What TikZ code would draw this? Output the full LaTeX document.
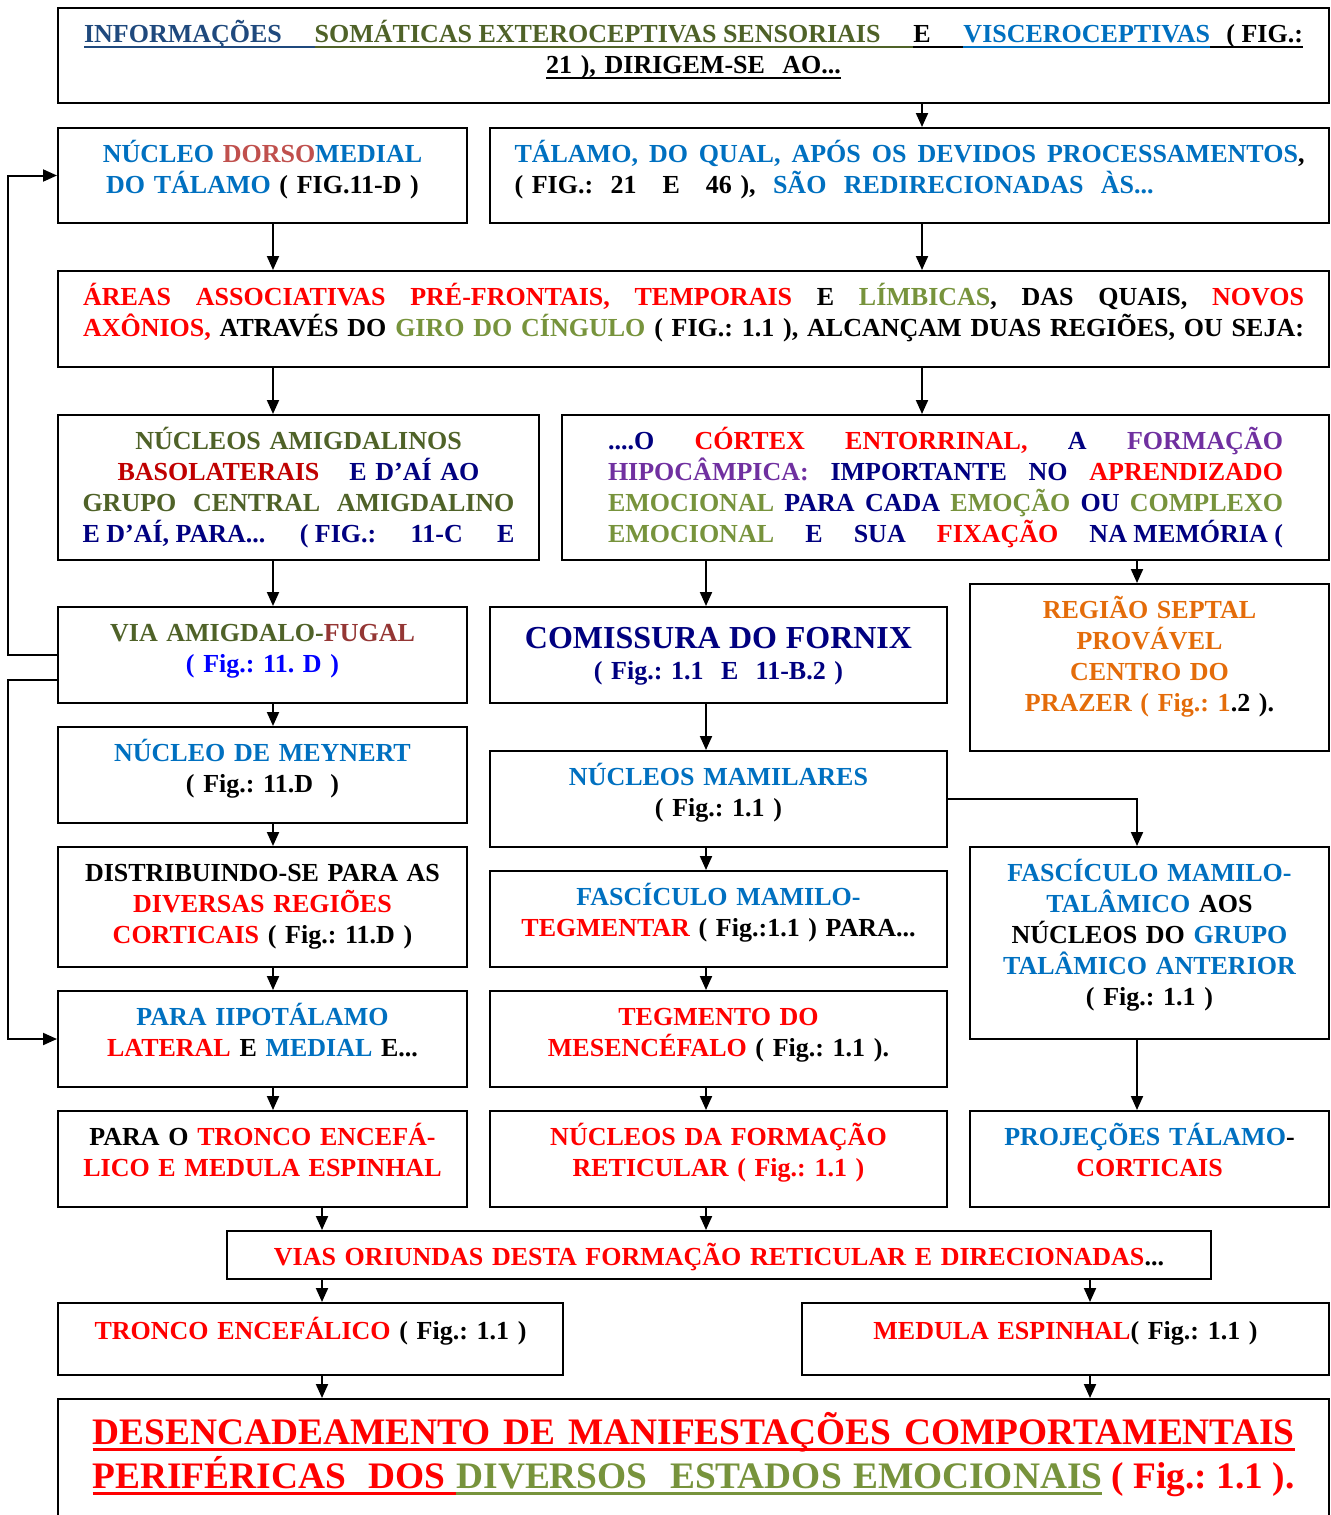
\documentclass[tikz,border=0pt]{standalone}
\usepackage{fontspec}
\setmainfont{Liberation Serif}
\usepackage{tikz}
\usetikzlibrary{arrows.meta,positioning,calc}
\usepackage{xcolor}
\definecolor{BlueD}  {RGB}{31,  73, 125}
\definecolor{OliveD} {RGB}{79,  98,  40}
\definecolor{BlueM}  {RGB}{0,  112, 192}
\definecolor{BrickM} {RGB}{192, 80,  77}
\definecolor{GreenL} {RGB}{119,147,  60}
\definecolor{RedD}   {RGB}{192,  0,   0}
\definecolor{NavyB}  {RGB}{0,    0, 128}
\definecolor{PurpleM}{RGB}{112, 48, 160}
\definecolor{RustD}  {RGB}{148, 54,  52}
\definecolor{OrangeM}{RGB}{228,108,  10}
% justified line, underlined text and underlined space
\newcommand{\jline}[1]{\makebox[\linewidth][s]{\spaceskip=0.25em plus 1em minus 0.05em\relax #1}}
\newlength{\ulth}\setlength{\ulth}{1pt}
\newlength{\ulgap}\setlength{\ulgap}{1.5pt}
\newcommand{\ulin}[1]{\leavevmode\setbox0=\hbox{#1}%
  \rlap{\vrule height -\ulgap depth \dimexpr\ulgap+\ulth\relax width \wd0}\box0}
\newcommand{\ulsp}{\leaders\hrule height -\ulgap depth \dimexpr\ulgap+\ulth\relax\hskip 0.3em plus 1em minus 0.1em}

\begin{document}
\begin{tikzpicture}[x=0.5pt,y=-0.5pt,
    cell/.style={draw,line width=1pt,anchor=north west,inner sep=0pt,
                 align=center,text height=17.25pt,text depth=30.75pt,
                 font=\fontsize{13}{15.5}\selectfont\bfseries\frenchspacing},
    colL/.style={minimum width=204.5pt,text width=196pt},
    colM/.style={minimum width=228.5pt,text width=220pt},
    colR/.style={minimum width=179.5pt,text width=172pt},
    wide/.style={minimum width=635.5pt},
    arr/.style={-{Triangle[width=6pt,length=7pt]},line width=1pt}]
  \useasboundingbox (0,0) rectangle (1330,1515);

  % columns of the arrows
  \coordinate (xL) at (273,0);
  \coordinate (xM) at (706,0);
  \coordinate (xR) at (922,0);
  \coordinate (xS) at (1137,0);
  \coordinate (xB) at (322,0);
  \coordinate (xC) at (1090,0);

  \node[cell,wide,text width=609.5pt,text depth=30.25pt] (info) at (57,7)
    {\jline{\textcolor{BlueD}{\ulin{INFORMAÇÕES}\ulsp\ulsp}\textcolor{OliveD}{\ulin{SOMÁTICAS EXTEROCEPTIVAS SENSORIAIS}\ulsp\ulsp}\ulin{E}\ulsp\ulsp\textcolor{BlueM}{\ulin{VISCEROCEPTIVAS}}\ulsp\ulin{( FIG.:}}\\
     \ulin{21 ), DIRIGEM-SE\ \ AO...}};

  \node[cell,colL,text depth=30.25pt] (dmt) at (57,127)
    {\textcolor{BlueM}{NÚCLEO \textcolor{BrickM}{DORSO}MEDIAL}\\
     \textcolor{BlueM}{DO TÁLAMO} ( FIG.11-D )};
  \node[cell,minimum width=419.5pt,text width=395pt,text depth=30.25pt,align=left] (tal) at (489,127)
    {\jline{\textcolor{BlueM}{TÁLAMO, DO QUAL, APÓS OS DEVIDOS PROCESSAMENTOS},}\\
     ( FIG.:\ \ 21\ \ \ E\ \ \ 46 ),\ \ \textcolor{BlueM}{SÃO\ \ REDIRECIONADAS\ \ ÀS...}};

  \node[cell,wide,text width=610.5pt] (areas) at (57,270)
    {\jline{\textcolor{red}{ÁREAS ASSOCIATIVAS PRÉ-FRONTAIS, TEMPORAIS} E \textcolor{GreenL}{LÍMBICAS}, DAS QUAIS, \textcolor{red}{NOVOS}}\\
     \jline{\textcolor{red}{AXÔNIOS,} ATRAVÉS DO \textcolor{GreenL}{GIRO DO CÍNGULO} ( FIG.: 1.1 ), ALCANÇAM DUAS REGIÕES, OU SEJA:}};

  \node[cell,minimum width=240.5pt,text width=216pt,text depth=55.25pt] (amig) at (57,414)
    {\textcolor{OliveD}{NÚCLEOS AMIGDALINOS}\\
     \textcolor{RedD}{BASOLATERAIS}\hspace{15pt}\textcolor{NavyB}{E D’AÍ AO}\\
     \jline{\textcolor{OliveD}{GRUPO CENTRAL AMIGDALINO}}\\
     \jline{\textcolor{NavyB}{\mbox{E D’AÍ, PARA...} \mbox{( FIG.:} 11-C E}}};
  \node[cell,minimum width=383.5pt,text width=337.5pt,text depth=55.25pt] (cortex) at (561,414)
    {\jline{\textcolor{NavyB}{....O} \textcolor{red}{CÓRTEX ENTORRINAL,} \textcolor{NavyB}{A} \textcolor{PurpleM}{FORMAÇÃO}}\\
     \jline{\textcolor{PurpleM}{HIPOCÂMPICA:} \textcolor{NavyB}{IMPORTANTE NO} \textcolor{red}{APRENDIZADO}}\\
     \jline{\textcolor{GreenL}{EMOCIONAL} \textcolor{NavyB}{PARA CADA} \textcolor{GreenL}{EMOÇÃO} \textcolor{NavyB}{OU} \textcolor{GreenL}{COMPLEXO}}\\
     \jline{\textcolor{GreenL}{EMOCIONAL} \textcolor{NavyB}{E SUA} \textcolor{red}{FIXAÇÃO} \textcolor{NavyB}{\mbox{NA MEMÓRIA (}}}};

  \node[cell,colL] (via) at (57,606)
    {\textcolor{OliveD}{VIA AMIGDALO-}\textcolor{RustD}{FUGAL}\\
     \textcolor{blue}{( Fig.: 11. D )}};
  \node[cell,colM,text height=20.5pt,text depth=27.5pt] (forn) at (489,606)
    {\textcolor{NavyB}{{\fontsize{16}{17}\selectfont COMISSURA DO FORNIX}}\\
     \textcolor{NavyB}{( Fig.: 1.1\ \ E\ \ 11-B.2 )}};
  \node[cell,colR,text depth=66.25pt] (sept) at (969,583)
    {\textcolor{OrangeM}{REGIÃO SEPTAL}\\
     \textcolor{OrangeM}{PROVÁVEL}\\
     \textcolor{OrangeM}{CENTRO DO}\\
     \textcolor{OrangeM}{PRAZER ( Fig.: 1}.2 ).};

  \node[cell,colL] (mey) at (57,726)
    {\textcolor{BlueM}{NÚCLEO DE MEYNERT}\\ ( Fig.: 11.D\ \ )};
  \node[cell,colM] (mam) at (489,750)
    {\textcolor{BlueM}{NÚCLEOS MAMILARES}\\ ( Fig.: 1.1 )};

  \node[cell,colL,text depth=42.75pt] (dist) at (57,846)
    {DISTRIBUINDO-SE PARA AS\\
     \textcolor{red}{DIVERSAS REGIÕES}\\
     \textcolor{red}{CORTICAIS} ( Fig.: 11.D )};
  \node[cell,colM] (ftg) at (489,870)
    {\textcolor{BlueM}{FASCÍCULO MAMILO-}\\
     \textcolor{red}{TEGMENTAR} ( Fig.:1.1 ) PARA...};
  \node[cell,colR,text depth=78.75pt] (fta) at (969,846)
    {\textcolor{BlueM}{FASCÍCULO MAMILO-}\\
     \textcolor{BlueM}{TALÂMICO} AOS\\
     NÚCLEOS DO \textcolor{BlueM}{GRUPO}\\
     \textcolor{BlueM}{TALÂMICO ANTERIOR}\\
     ( Fig.: 1.1 )};

  \node[cell,colL] (hipo) at (57,990)
    {\textcolor{BlueM}{PARA IIPOTÁLAMO}\\
     \textcolor{red}{LATERAL} E \textcolor{BlueM}{MEDIAL} E...};
  \node[cell,colM] (tegm) at (489,990)
    {\textcolor{red}{TEGMENTO DO}\\
     \textcolor{red}{MESENCÉFALO} ( Fig.: 1.1 ).};

  \node[cell,colL] (tron) at (57,1110)
    {PARA O \textcolor{red}{TRONCO ENCEFÁ-}\\
     \textcolor{red}{LICO E MEDULA ESPINHAL}};
  \node[cell,colM] (ret) at (489,1110)
    {\textcolor{red}{NÚCLEOS DA FORMAÇÃO}\\
     \textcolor{red}{RETICULAR ( Fig.: 1.1 )}};
  \node[cell,colR] (proj) at (969,1110)
    {\textcolor{BlueM}{PROJEÇÕES TÁLAMO}-\\
     \textcolor{red}{CORTICAIS}};

  \node[cell,minimum width=492pt,text width=480pt,text depth=6.75pt] (vias) at (226,1230)
    {\textcolor{red}{VIAS ORIUNDAS DESTA FORMAÇÃO RETICULAR E DIRECIONADAS}...};

  \node[cell,minimum width=252.5pt,text width=244pt,text height=18pt,text depth=18pt] (trE) at (57,1302)
    {\textcolor{red}{TRONCO ENCEFÁLICO} ( Fig.: 1.1 )};
  \node[cell,minimum width=263.5pt,text width=255pt,text height=18pt,text depth=18pt] (med) at (801,1302)
    {\textcolor{red}{MEDULA ESPINHAL}( Fig.: 1.1 )};

  \node[cell,wide,text width=601pt,text height=22.75pt,text depth=40pt,
        font=\fontsize{18.7}{22}\selectfont\bfseries\frenchspacing] (fin) at (57,1398)
    {\setlength{\ulth}{1.6pt}\setlength{\ulgap}{1.7pt}%
     \jline{\textcolor{red}{\ulin{DESENCADEAMENTO}\ulsp\ulin{DE}\ulsp\ulin{MANIFESTAÇÕES}\ulsp\ulin{COMPORTAMENTAIS}}}\\
     \jline{\textcolor{red}{\ulin{PERIFÉRICAS}\ulsp\ulsp\ulin{DOS}\ulsp}\textcolor{GreenL}{\ulin{DIVERSOS}\ulsp\ulsp\ulin{ESTADOS}\ulsp\ulin{EMOCIONAIS}} \textcolor{red}{( Fig.: 1.1 ).}}};

  % straight arrows
  \foreach \a/\b/\c in {info/tal/xR, dmt/areas/xL, tal/areas/xR,
      areas/amig/xL, areas/cortex/xR, amig/via/xL, cortex/forn/xM,
      cortex/sept/xS, via/mey/xL, forn/mam/xM, mey/dist/xL,
      mam/ftg/xM, dist/hipo/xL, ftg/tegm/xM, fta/proj/xS,
      hipo/tron/xL, tegm/ret/xM, tron/vias/xB, ret/vias/xM,
      vias/trE/xB, vias/med/xC, trE/fin/xB, med/fin/xC}{
    \draw[arr] (\a.south -| \c) -- (\b.north -| \c);
  }
  \draw[arr] (mam.east) -| (fta.north -| xS);
  % loops on the left side
  \draw[arr] (via.west) -- ++(-49,0) |- (dmt.west);
  \draw[arr] ([yshift=-12.5pt]via.west) -- ++(-49,0) |- (hipo.west);
\end{tikzpicture}
\end{document}
